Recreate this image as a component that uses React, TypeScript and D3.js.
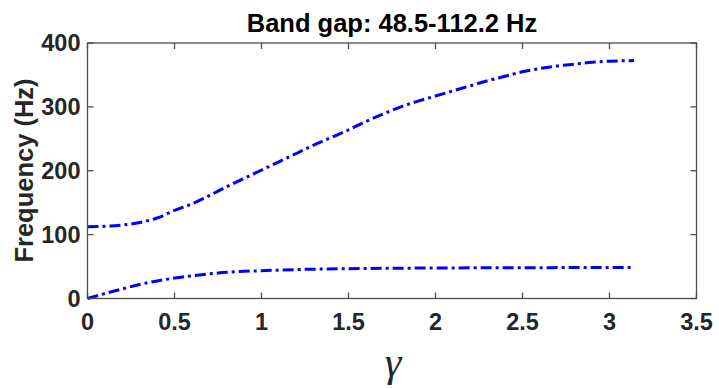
import React from "react";
import * as d3 from "d3";

const gammaLower: number[] = [0, 0.1, 0.2, 0.3, 0.4, 0.5, 0.6, 0.7, 0.8, 0.9, 1.0, 1.2, 1.5, 1.8, 2.1, 2.5, 2.8, 3.1416];
const freqLower: number[] = [0, 7.8, 15, 22, 27.5, 32, 35.5, 38.5, 41, 42.5, 43.5, 45.3, 46.7, 47.4, 47.9, 48.2, 48.4, 48.5];

const gammaUpper: number[] = [0, 0.1, 0.2, 0.3, 0.4, 0.5, 0.6, 0.7, 0.8, 0.9, 1.0, 1.1, 1.2, 1.3, 1.4, 1.5, 1.6, 1.7, 1.8, 1.9, 2.0, 2.1, 2.2, 2.3, 2.4, 2.5, 2.6, 2.7, 2.8, 2.9, 3.0, 3.1416];
const freqUpper: number[] = [112.2, 113, 115, 119, 126, 138, 148, 161, 175, 188, 201, 214, 227, 240, 252, 264, 277, 289, 300, 309, 317, 325, 333, 341, 348, 355, 360, 364, 367, 370, 371.5, 372.5];

const xTicks: number[] = [0, 0.5, 1, 1.5, 2, 2.5, 3, 3.5];
const yTicks: number[] = [0, 100, 200, 300, 400];
const titleText = "Band gap: 48.5-112.2 Hz";
const yLabel = "Frequency (Hz)";
const xLabel = "γ";

export default function App() {
  const W = 719, H = 388;
  const left = 87.5, right = 696.5, top = 43, bottom = 298.5;
  const x = d3.scaleLinear().domain([0, 3.5]).range([left, right]);
  const y = d3.scaleLinear().domain([0, 400]).range([bottom, top]);
  const line = d3
    .line<[number, number]>()
    .x((d) => x(d[0]))
    .y((d) => y(d[1]))
    .curve(d3.curveMonotoneX);
  const lower = line(gammaLower.map((g, i) => [g, freqLower[i]] as [number, number])) || "";
  const upper = line(gammaUpper.map((g, i) => [g, freqUpper[i]] as [number, number])) || "";
  const axisColor = "#4d4d4d";
  const textColor = "#262626";
  const font = "'Liberation Sans', Arial, sans-serif";
  const tickLen = 6;
  return (
    <svg width={W} height={H} style={{ position: "absolute", left: 0, top: 0, background: "#fff" }}>
      <rect x={0} y={0} width={W} height={H} fill="#fff" />
      <g fill="none" stroke="#0000ff" strokeWidth={3} strokeDasharray="11 4 3 4">
        <path d={lower} />
        <path d={upper} />
      </g>
      <g stroke={axisColor} strokeWidth={1.3} fill="none">
        <rect x={left} y={top} width={right - left} height={bottom - top} />
        {xTicks.map((t) => (
          <g key={"xt" + t}>
            <line x1={x(t)} x2={x(t)} y1={bottom} y2={bottom - tickLen} />
            <line x1={x(t)} x2={x(t)} y1={top} y2={top + tickLen} />
          </g>
        ))}
        {yTicks.map((t) => (
          <g key={"yt" + t}>
            <line x1={left} x2={left + tickLen} y1={y(t)} y2={y(t)} />
            <line x1={right} x2={right - tickLen} y1={y(t)} y2={y(t)} />
          </g>
        ))}
      </g>
      <g fill={textColor} fontFamily={font} fontWeight="bold" fontSize={23.5}>
        {xTicks.map((t) => (
          <text key={"xl" + t} x={x(t)} y={330} textAnchor="middle">
            {String(t)}
          </text>
        ))}
        {yTicks.map((t) => (
          <text key={"yl" + t} x={left - 7} y={y(t)} dy="0.36em" textAnchor="end">
            {String(t)}
          </text>
        ))}
      </g>
      <text x={(left + right) / 2} y={31.5} textAnchor="middle" fontFamily={font} fontWeight="bold" fontSize={25.5} fill="#000">
        {titleText}
      </text>
      <text
        transform={`translate(33,170.5) rotate(-90)`}
        textAnchor="middle"
        fontFamily={font}
        fontWeight="bold"
        fontSize={25.5}
        fill={textColor}
      >
        {yLabel}
      </text>
      <text x={393} y={376} textAnchor="middle" fontFamily="'Liberation Serif', 'DejaVu Serif', serif" fontStyle="italic" fontSize={42} fill={textColor}>
        {xLabel}
      </text>
    </svg>
  );
}
